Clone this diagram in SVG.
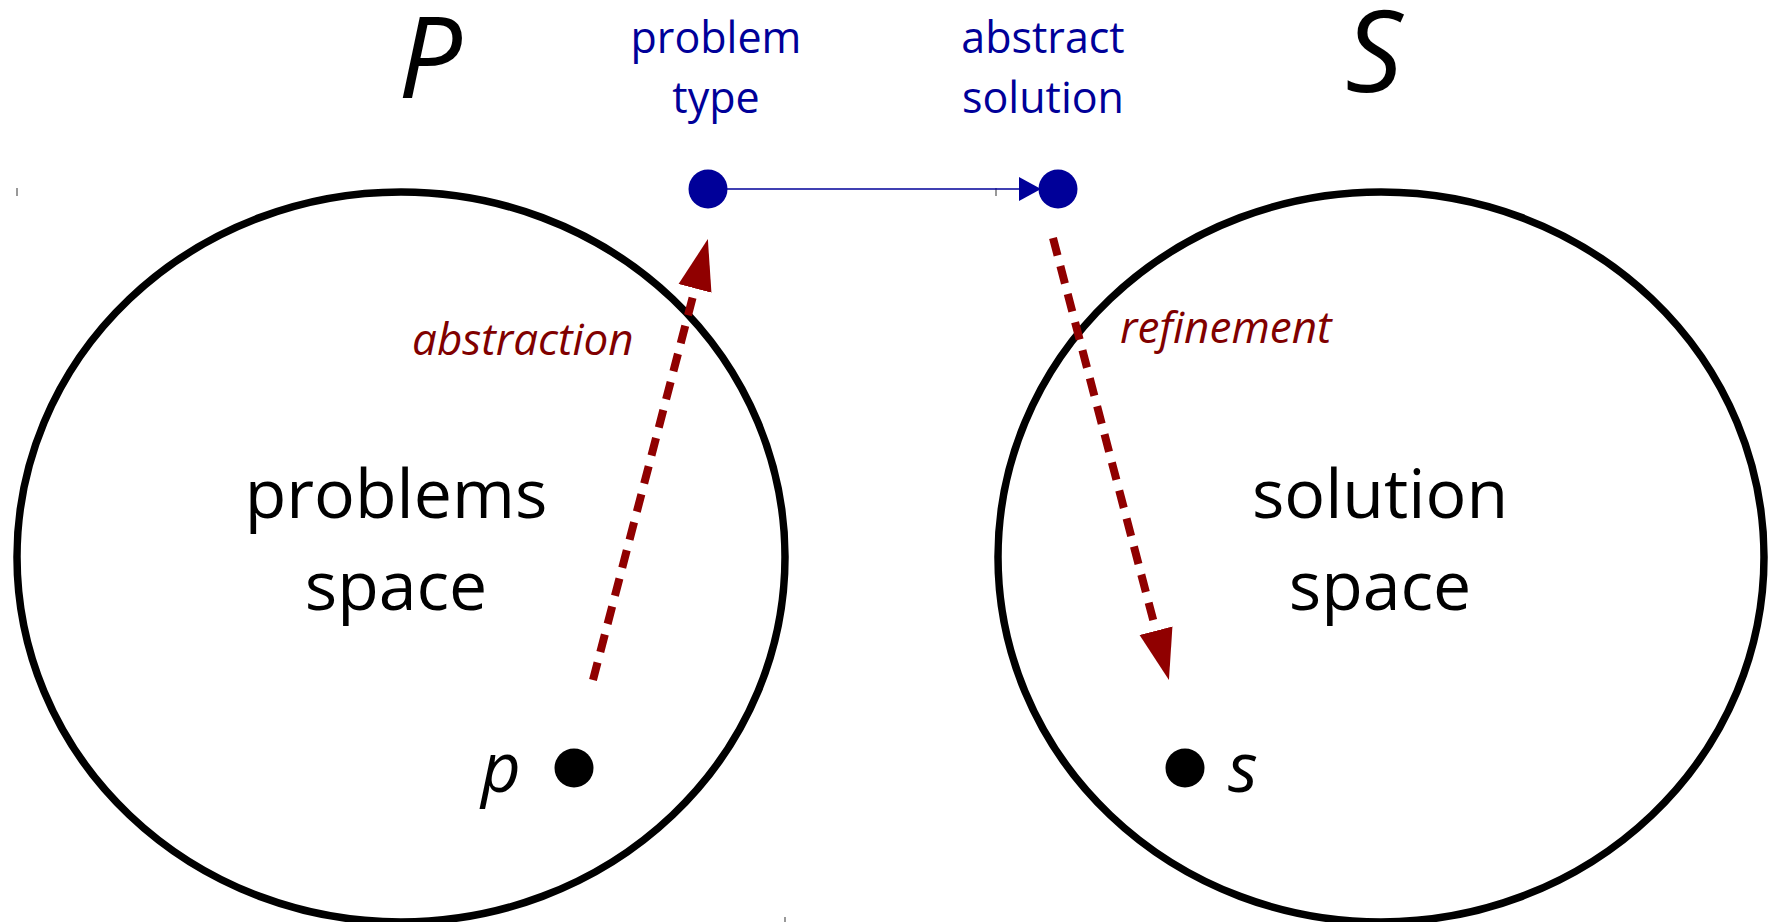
<svg xmlns="http://www.w3.org/2000/svg" width="1771" height="922" viewBox="0 0 1771 922">
<style>
.space{fill:none;stroke:#000;stroke-width:7.5}
.big{font-family:"Open Sans","Noto Sans",sans-serif;font-size:68px;fill:#000;text-anchor:middle}
.blue{font-family:"Open Sans","Noto Sans",sans-serif;font-size:43px;fill:#000099;text-anchor:middle}
.lbl{font-family:"Open Sans","Noto Sans",sans-serif;font-size:44px;font-style:italic;fill:#800000}
.set{font-family:"Open Sans","Noto Sans",sans-serif;font-size:113px;font-style:italic;fill:#000;text-anchor:middle}
.var{font-family:"Open Sans","Noto Sans",sans-serif;font-size:69px;font-style:italic;fill:#000}
.dash{fill:none;stroke:#900000;stroke-width:8;stroke-dasharray:18 11}
.tick{stroke:#555;stroke-width:1.2}
</style>
<defs>
<marker id="redhead" markerUnits="userSpaceOnUse" markerWidth="52" markerHeight="36" viewBox="0 -18 52 36" refX="0" refY="0" orient="auto">
<path d="M0,-17 L51,0 L0,17 z" fill="#900000"/>
</marker>
</defs>
<rect width="1771" height="922" fill="#fff"/>
<g id="ticks">
<line class="tick" x1="17" y1="188" x2="17" y2="196"/>
<line class="tick" x1="996" y1="188" x2="996" y2="196"/>
<line class="tick" x1="785" y1="917" x2="785" y2="922"/>
</g>
<g id="problem-space">
<ellipse class="space" cx="401" cy="557" rx="384" ry="365"/>
<text class="set" x="430" y="98">P</text>
<text class="big" x="396" y="518">problems</text>
<text class="big" x="396" y="610">space</text>
</g>
<g id="solution-space">
<ellipse class="space" cx="1381" cy="557" rx="383" ry="365"/>
<text class="set" x="1374" y="92">S</text>
<text class="big" x="1380" y="518">solution</text>
<text class="big" x="1380" y="610">space</text>
</g>
<g id="problem-type">
<circle cx="708" cy="189" r="19.5" fill="#000099"/>
<text class="blue" x="716" y="53">problem</text>
<text class="blue" x="716" y="113">type</text>
</g>
<g id="abstract-solution">
<circle cx="1058" cy="189" r="19.5" fill="#000099"/>
<text class="blue" x="1043" y="53">abstract</text>
<text class="blue" x="1043" y="113">solution</text>
</g>
<g id="p-point">
<circle cx="574" cy="768" r="19.5" fill="#000"/>
<text class="var" x="481" y="792">p</text>
</g>
<g id="s-point">
<circle cx="1185" cy="768" r="19.5" fill="#000"/>
<text class="var" x="1228" y="792">s</text>
</g>
<g id="connectors">
<line x1="727" y1="189" x2="1021" y2="189" stroke="#000099" stroke-width="1.5"/>
<polygon points="1019,177 1041,189 1019,201" fill="#000099"/>
<line class="dash" x1="593" y1="680" x2="695" y2="288.4" marker-end="url(#redhead)"/>
<line class="dash" x1="1053" y1="238" x2="1156" y2="630.7" marker-end="url(#redhead)"/>
<text class="lbl" x="412" y="355">abstraction</text>
<text class="lbl" x="1120" y="343">refinement</text>
</g>
</svg>
